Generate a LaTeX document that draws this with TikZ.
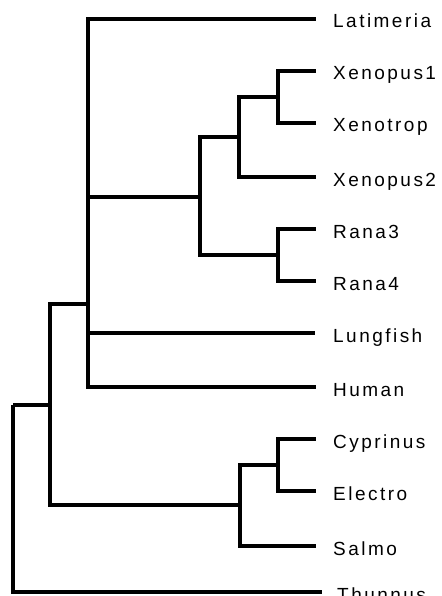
\documentclass[tikz,border=0pt]{standalone}
\usepackage{fontspec}
\setmainfont{Liberation Sans}[LetterSpace=13]
\begin{document}
\begin{tikzpicture}[x=1pt,y=-1pt,
  branch/.style={line width=3.2pt,line join=miter,line cap=butt,black},
  leaf/.style={anchor=base west,inner sep=0pt,font=\fontsize{19}{22}\selectfont}]
\useasboundingbox (0,0) rectangle (441,596);
% internal nodes
\coordinate (root) at (13,405);
\coordinate (n1) at (50,405);
\coordinate (main) at (88,304);
\coordinate (amph) at (200,197);
\coordinate (xen) at (239,137);
\coordinate (xx) at (278,97);
\coordinate (rana) at (278,255);
\coordinate (fish) at (240,505);
\coordinate (cyp) at (278,465);
% tips
\coordinate (tLat) at (316,19);
\coordinate (tX1) at (316,71);
\coordinate (tXt) at (316,123);
\coordinate (tX2) at (316,177);
\coordinate (tR3) at (316,229);
\coordinate (tR4) at (316,281);
\coordinate (tLu) at (315,333);
\coordinate (tHu) at (316,387);
\coordinate (tCy) at (316,439);
\coordinate (tEl) at (316,491);
\coordinate (tSa) at (316,546);
\coordinate (tTh) at (322,592);
% labels
\node[leaf] (lLat) at (333,28) {Latimeria};
\node[leaf] (lX1) at (333,80) {Xenopus1};
\node[leaf] (lXt) at (333,132) {Xenotrop};
\node[leaf] (lX2) at (333,186) {Xenopus2};
\node[leaf] (lR3) at (333,238) {Rana3};
\node[leaf] (lR4) at (333,290) {Rana4};
\node[leaf] (lLu) at (333,342) {Lungfish};
\node[leaf] (lHu) at (333,396) {Human};
\node[leaf] (lCy) at (333,448) {Cyprinus};
\node[leaf] (lEl) at (333,500) {Electro};
\node[leaf] (lSa) at (333,555) {Salmo};
\node[leaf] (lTh) at (337,601) {Thunnus};
% branches
\draw[branch] (root) |- (n1);
\draw[branch] (root) |- (tTh);
\draw[branch] (n1) |- (main);
\draw[branch] (n1) |- (fish);
\draw[branch] (main) |- (tLat);
\draw[branch] (main) |- (amph);
\draw[branch] (main) |- (tLu);
\draw[branch] (main) |- (tHu);
\draw[branch] (amph) |- (xen);
\draw[branch] (amph) |- (rana);
\draw[branch] (xen) |- (xx);
\draw[branch] (xen) |- (tX2);
\draw[branch] (xx) |- (tX1);
\draw[branch] (xx) |- (tXt);
\draw[branch] (rana) |- (tR3);
\draw[branch] (rana) |- (tR4);
\draw[branch] (fish) |- (cyp);
\draw[branch] (fish) |- (tSa);
\draw[branch] (cyp) |- (tCy);
\draw[branch] (cyp) |- (tEl);
\end{tikzpicture}
\end{document}
